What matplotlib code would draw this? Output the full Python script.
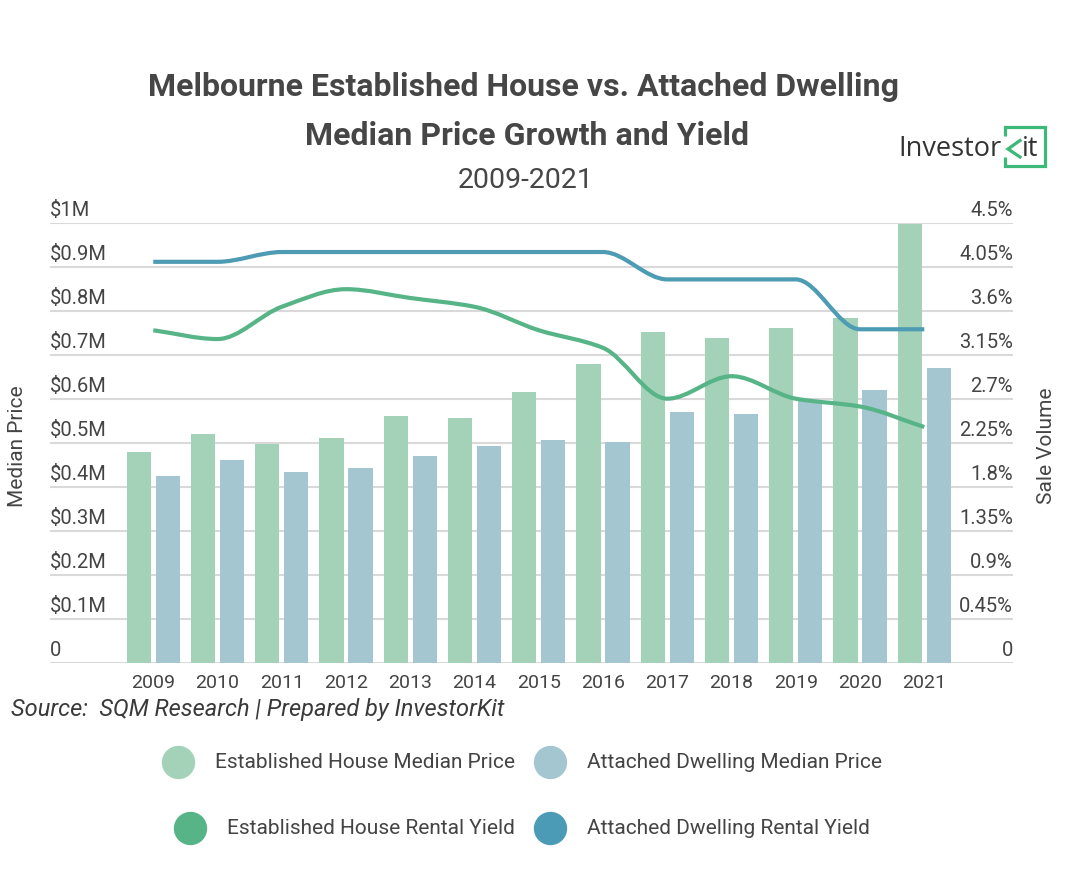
import matplotlib
matplotlib.use('Agg')
import matplotlib.pyplot as plt
from matplotlib.path import Path
from matplotlib.patches import PathPatch
import matplotlib.transforms as mtransforms
import numpy as np

# ---------------- data ----------------
years = ['2009', '2010', '2011', '2012', '2013', '2014', '2015',
         '2016', '2017', '2018', '2019', '2020', '2021']
house_price = [0.478, 0.520, 0.498, 0.511, 0.561, 0.556, 0.615,
               0.679, 0.752, 0.738, 0.761, 0.784, 0.997]      # $M
unit_price = [0.424, 0.461, 0.434, 0.442, 0.470, 0.493, 0.506,
              0.502, 0.570, 0.565, 0.598, 0.620, 0.670]       # $M
house_yield = [3.40, 3.31, 3.64, 3.82, 3.73, 3.64, 3.40,
               3.22, 2.70, 2.93, 2.70, 2.62, 2.41]            # %
unit_yield = [4.10, 4.10, 4.20, 4.20, 4.20, 4.20, 4.20,
              4.20, 3.92, 3.92, 3.92, 3.41, 3.41]             # %

price_ticks = [0, 0.1, 0.2, 0.3, 0.4, 0.5, 0.6, 0.7, 0.8, 0.9, 1.0]
price_tick_labels = ['0', '$0.1M', '$0.2M', '$0.3M', '$0.4M', '$0.5M',
                     '$0.6M', '$0.7M', '$0.8M', '$0.9M', '$1M']
yield_ticks = [0, 0.45, 0.9, 1.35, 1.8, 2.25, 2.7, 3.15, 3.6, 4.05, 4.5]
yield_tick_labels = ['0', '0.45%', '0.9%', '1.35%', '1.8%', '2.25%',
                     '2.7%', '3.15%', '3.6%', '4.05%', '4.5%']

legend_labels = ['Established House Median Price', 'Attached Dwelling Median Price',
                 'Established House Rental Yield', 'Attached Dwelling Rental Yield']

title_lines = ['Melbourne Established House vs. Attached Dwelling',
               'Median Price Growth and Yield']
subtitle = '2009-2021'
source_text = 'Source:  SQM Research | Prepared by InvestorKit'

# ---------------- style ----------------
C_HOUSE_BAR = '#a3d2b9'
C_UNIT_BAR = '#a3c6d1'
C_HOUSE_LINE = '#56b487'
C_UNIT_LINE = '#4e9bb4'
C_GRID = '#d9d9d9'
C_TEXT = '#444444'
C_TITLE = '#464646'
C_LOGO = '#3cb878'

plt.rcParams['font.family'] = ['Roboto', 'DejaVu Sans']

W, H = 1072, 880
fig = plt.figure(figsize=(W / 100, H / 100), dpi=100)
fig.patch.set_facecolor('white')

# plot area in pixels
left_px, right_px = 50, 1013
top_px, bot_px = 222.7, 662.7
ax = fig.add_axes([left_px / W, 1 - bot_px / H, (right_px - left_px) / W, (bot_px - top_px) / H])
ax2 = ax.twinx()

x = np.arange(len(years))
# category spacing: 2009 centre at 153.3 px, 2021 at 924.3 px
dpx = 12 / (924.3 - 153.3)
ax.set_xlim(-(153.3 - left_px) * dpx, 12 + (right_px - 924.3) * dpx)
ax.set_ylim(0, 1.0)
ax2.set_ylim(0, 4.5)

for a in (ax, ax2):
    for s in a.spines.values():
        s.set_visible(False)
    a.tick_params(length=0)
ax.set_yticks(price_ticks)
ax.set_yticklabels([])
ax2.set_yticks(yield_ticks)
ax2.set_yticklabels([])
ax.yaxis.grid(True, color=C_GRID, linewidth=1.5)
ax.set_axisbelow(True)

ax.set_xticks(x)
ax.set_xticklabels(years, fontsize=14, color=C_TEXT)
ax.tick_params(axis='x', pad=8)

bw = 0.378
off = 0.225
ax.bar(x - off, house_price, width=bw, color=C_HOUSE_BAR, zorder=2)
ax.bar(x + off, unit_price, width=bw, color=C_UNIT_BAR, zorder=2)

# y tick labels sitting above the grid lines
tl = mtransforms.offset_copy(ax.get_yaxis_transform(), fig=fig, x=0, y=3, units='dots')
for v, lab in zip(price_ticks, price_tick_labels):
    ax.text(0, v, lab, transform=tl, ha='left', va='bottom', fontsize=14.5, color=C_TEXT)
tr = mtransforms.offset_copy(ax2.get_yaxis_transform(), fig=fig, x=0, y=3, units='dots')
for v, lab in zip(yield_ticks, yield_tick_labels):
    ax2.text(1, v, lab, transform=tr, ha='right', va='bottom', fontsize=14.5, color=C_TEXT)


def smooth_path(xs, ys):
    xs = np.asarray(xs, float)
    ys = np.asarray(ys, float)
    h = np.diff(xs)
    d = np.diff(ys) / h
    n = len(xs)
    m = np.zeros(n)
    m[0] = d[0]
    m[-1] = d[-1]
    for k in range(1, n - 1):
        if d[k - 1] * d[k] <= 0:
            m[k] = 0
        else:
            m[k] = 2 * d[k - 1] * d[k] / (d[k - 1] + d[k])
    verts = [(xs[0], ys[0])]
    codes = [Path.MOVETO]
    for k in range(n - 1):
        hk = h[k]
        verts += [(xs[k] + hk / 3, ys[k] + m[k] * hk / 3),
                  (xs[k + 1] - hk / 3, ys[k + 1] - m[k + 1] * hk / 3),
                  (xs[k + 1], ys[k + 1])]
        codes += [Path.CURVE4] * 3
    return Path(verts, codes)


for ys, col in ((house_yield, C_HOUSE_LINE), (unit_yield, C_UNIT_LINE)):
    p = PathPatch(smooth_path(x, ys), facecolor='none', edgecolor=col,
                  linewidth=3, capstyle='butt', joinstyle='round', zorder=3)
    ax2.add_patch(p)

# ---------------- overlay (pixel coordinates) ----------------
ov = fig.add_axes([0, 0, 1, 1], zorder=-1)
ov.set_xlim(0, W)
ov.set_ylim(H, 0)
ov.axis('off')
ov.patch.set_alpha(0)

ov.text(523, 96, title_lines[0], ha='center', va='baseline', fontsize=23,
        fontweight='bold', color=C_TITLE)
ov.text(527, 145, title_lines[1], ha='center', va='baseline', fontsize=23,
        fontweight='bold', color=C_TITLE)
ov.text(526, 188, subtitle, ha='center', va='baseline', fontsize=20.5, color=C_TITLE)

ov.text(18, 446, 'Median Price', rotation=90, ha='center', va='center',
        fontsize=15, color=C_TEXT)
ov.text(1046, 446, 'Sale Volume', rotation=90, ha='center', va='center',
        fontsize=15, color=C_TEXT)

ov.text(11, 716, source_text, ha='left', va='baseline', fontsize=17,
        style='italic', color='#3a3a3a')

# legend
leg = [
    (178, 762, C_HOUSE_BAR, legend_labels[0], 215),
    (550, 762, C_UNIT_BAR, legend_labels[1], 587),
    (190, 828, C_HOUSE_LINE, legend_labels[2], 227),
    (550, 828, '#4b9bb7', legend_labels[3], 587),
]
for mx, my, col, lab, tx in leg:
    ov.plot([mx], [my], marker='o', markersize=23, color=col, linestyle='none')
    ov.text(tx, my, lab, ha='left', va='center', fontsize=15, color=C_TEXT)

# logo
ov.text(898, 156, 'Investor', ha='left', va='baseline', fontsize=19.5,
        color='#333333', family=['Open Sans', 'DejaVu Sans'])
ov.text(1022, 156, 'it', ha='left', va='baseline', fontsize=19.5,
        color='#333333', family=['Open Sans', 'DejaVu Sans'])
lw_logo = 2.3
ov.plot([1005, 1005, 1045, 1045, 1005, 1005], [136, 127, 127, 166.5, 166.5, 157],
        color=C_LOGO, linewidth=lw_logo, solid_joinstyle='miter', solid_capstyle='butt')
ov.plot([1020, 1008, 1020], [140.5, 149, 157], color=C_LOGO, linewidth=lw_logo,
        solid_joinstyle='miter')

fig.savefig('out.png', dpi=100, facecolor='white')
